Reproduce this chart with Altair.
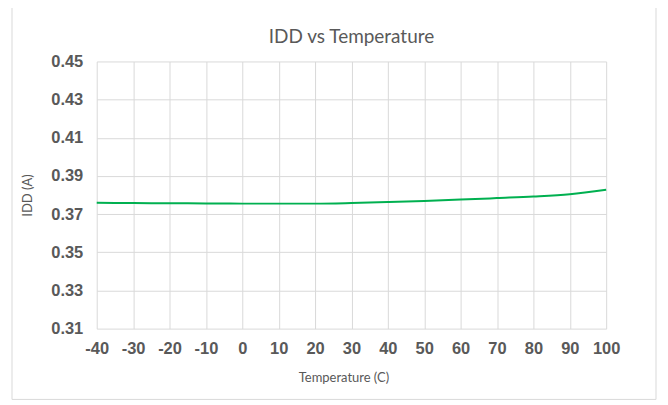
import altair as alt
import pandas as pd

temps = [-40, -30, -20, -10, 0, 10, 20, 30, 40, 50, 60, 70, 80, 90, 100]
idd = [0.3759, 0.3758, 0.3757, 0.3756, 0.3755, 0.3755, 0.3755, 0.3758,
       0.3763, 0.3769, 0.3776, 0.3784, 0.3792, 0.3804, 0.3828]
x_ticks = list(range(-40, 101, 10))
y_ticks = [0.31, 0.33, 0.35, 0.37, 0.39, 0.41, 0.43, 0.45]

df = pd.DataFrame({"Temperature": temps, "IDD": idd})

W, H = 511, 268

frame = alt.Chart(pd.DataFrame({"a": [0]})).mark_rect(
    fillOpacity=0, stroke="#d9d9d9", strokeWidth=1, clip=False
).encode(
    x=alt.value(-85), x2=alt.value(561), y=alt.value(-56), y2=alt.value(339)
)

line = alt.Chart(df).mark_line(
    color="#00b050", strokeWidth=2, interpolate="monotone"
).encode(
    x=alt.X("Temperature:Q",
            scale=alt.Scale(domain=[-40, 100], nice=False, zero=False),
            axis=alt.Axis(values=x_ticks, title="Temperature (C)",
                          labelExpr="toString(datum.value)",
                          labelFont="Liberation Sans", labelFontWeight="bold",
                          labelFontSize=16.5, labelColor="#595959", labelPadding=12,
                          titleFont="Lato", titleFontSize=13, titleFontWeight="normal",
                          titleColor="#595959", titlePadding=15, titleX=W / 2 - 8,
                          grid=True, gridColor="#d9d9d9", domain=False, ticks=False,
                          labelFlush=False)),
    y=alt.Y("IDD:Q",
            scale=alt.Scale(domain=[0.31, 0.45], nice=False, zero=False),
            axis=alt.Axis(values=y_ticks, format=".2f", title="IDD (A)",
                          labelFont="Liberation Sans", labelFontWeight="bold",
                          labelFontSize=16.5, labelColor="#595959", labelPadding=14,
                          titleFont="Lato", titleFontSize=13, titleFontWeight="normal",
                          titleColor="#595959", titlePadding=16,
                          grid=True, gridColor="#d9d9d9", domain=False, ticks=False))
)

chart = alt.layer(frame, line).properties(
    width=W, height=H,
    title=alt.TitleParams("IDD vs Temperature", font="Lato", fontSize=19,
                          fontWeight="normal", color="#595959", anchor="middle",
                          frame="group", offset=0, dy=42),
    autosize=alt.AutoSizeParams(type="none"),
    padding={"left": 89, "top": 53, "right": 54, "bottom": 76},
).configure_view(stroke=None)

chart.save("out.html", embed_options={"renderer": "svg", "actions": False})
